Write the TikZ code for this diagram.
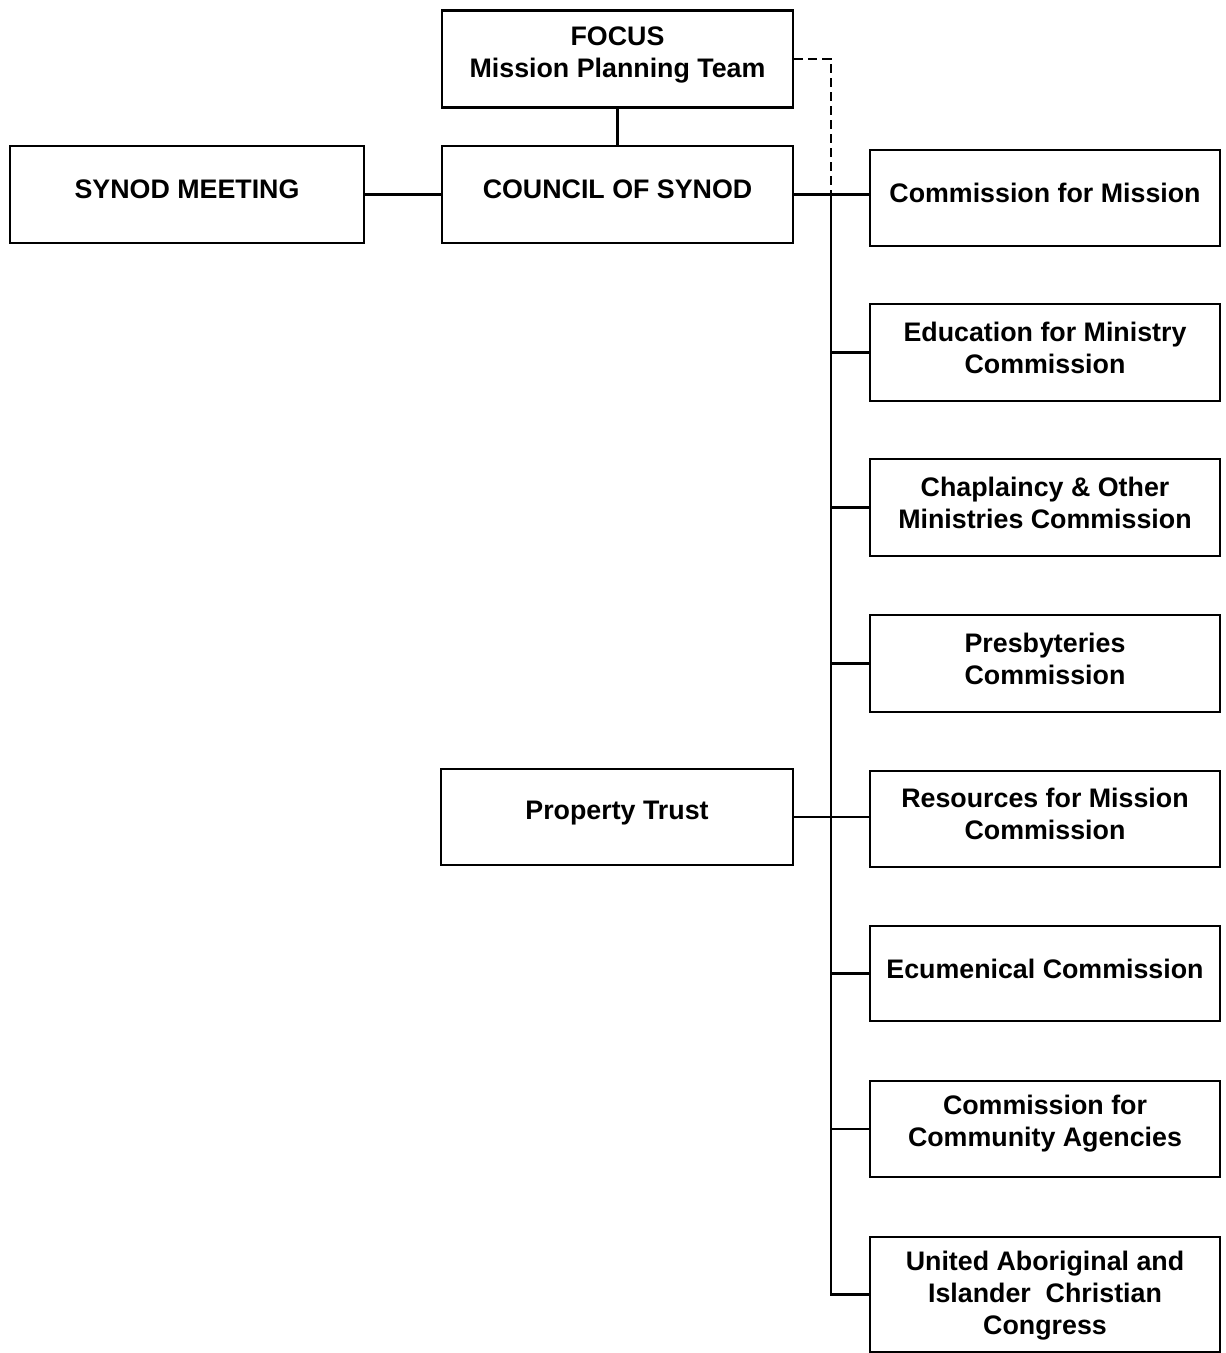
\documentclass[tikz,border=0pt]{standalone}
\usepackage{fontspec}
\setmainfont{Liberation Sans}
\begin{document}
\begin{tikzpicture}[x=1pt,y=-1pt,
  box/.style={draw, line width=2.8pt, minimum width=351pt, minimum height=97pt, inner sep=0pt},
  lbl/.style={font=\bfseries\fontsize{26.8}{32}\selectfont, align=center, inner sep=0pt},
  conn/.style={line width=2.8pt},
  dashconn/.style={line width=2.8pt, dash pattern=on 9pt off 5pt}]
\useasboundingbox (0,0) rectangle (1226,1353);
% boxes
\node[box] (focus) at (617.5,59) {};
\node[box, minimum width=354pt] (synod) at (187,194.5) {};
\node[box] (council) at (617.5,194.5) {};
\node[box, minimum width=352pt, minimum height=96pt] (prop) at (617,817) {};
\node[box, minimum width=350pt, minimum height=96pt] (cm) at (1045,198) {};
\node[box, minimum width=350pt] (edu) at (1045,352.5) {};
\node[box, minimum width=350pt] (chap) at (1045,507.5) {};
\node[box, minimum width=350pt] (pres) at (1045,663.5) {};
\node[box, minimum width=350pt, minimum height=96pt] (res) at (1045,819) {};
\node[box, minimum width=350pt, minimum height=95pt] (ecu) at (1045,973.5) {};
\node[box, minimum width=350pt, minimum height=96pt] (cca) at (1045,1129) {};
\node[box, minimum width=350pt, minimum height=115pt] (uaic) at (1045,1294.5) {};
% labels
\node[lbl] (focusT) at ([yshift=4pt]focus.center) {FOCUS\\Mission Planning Team};
\node[lbl] (synodT) at ([yshift=5pt]synod.center) {SYNOD MEETING};
\node[lbl] (councilT) at ([yshift=5pt]council.center) {COUNCIL OF SYNOD};
\node[lbl] (propT) at ([yshift=4pt]prop.center) {Property Trust};
\node[lbl] (cmT) at ([yshift=5.5pt]cm.center) {Commission for Mission};
\node[lbl] (eduT) at ([yshift=5pt]edu.center) {Education for Ministry\\Commission};
\node[lbl] (chapT) at ([yshift=5pt]chap.center) {Chaplaincy \& Other\\Ministries Commission};
\node[lbl] (presT) at ([yshift=5pt]pres.center) {Presbyteries\\Commission};
\node[lbl] (resT) at ([yshift=5pt]res.center) {Resources for Mission\\Commission};
\node[lbl] (ecuT) at ([yshift=4.5pt]ecu.center) {Ecumenical Commission};
\node[lbl] (ccaT) at ([yshift=5pt]cca.center) {Commission for\\Community Agencies};
\node[lbl] (uaicT) at ([yshift=-1pt]uaic.center) {United Aboriginal and\\Islander\ \ Christian\\Congress};
% connectors
\coordinate (spine) at (831,196);
\draw[conn] (focus.south) -- (council.north);
\draw[conn] (synod.east) -- (council.west);
\draw[dashconn] (focus.east) -- (focus.east -| spine) -- (spine);
\draw[conn] (council.east) -- (council.east -| cm.west);
\draw[conn] (spine) |- (uaic.west);
\draw[conn] (edu.west -| spine) -- (edu.west);
\draw[conn] (chap.west -| spine) -- (chap.west);
\draw[conn] (pres.west -| spine) -- (pres.west);
\draw[conn] (prop.east) -- (prop.east -| res.west);
\draw[conn] (ecu.west -| spine) -- (ecu.west);
\draw[conn] (cca.west -| spine) -- (cca.west);
\end{tikzpicture}
\end{document}
